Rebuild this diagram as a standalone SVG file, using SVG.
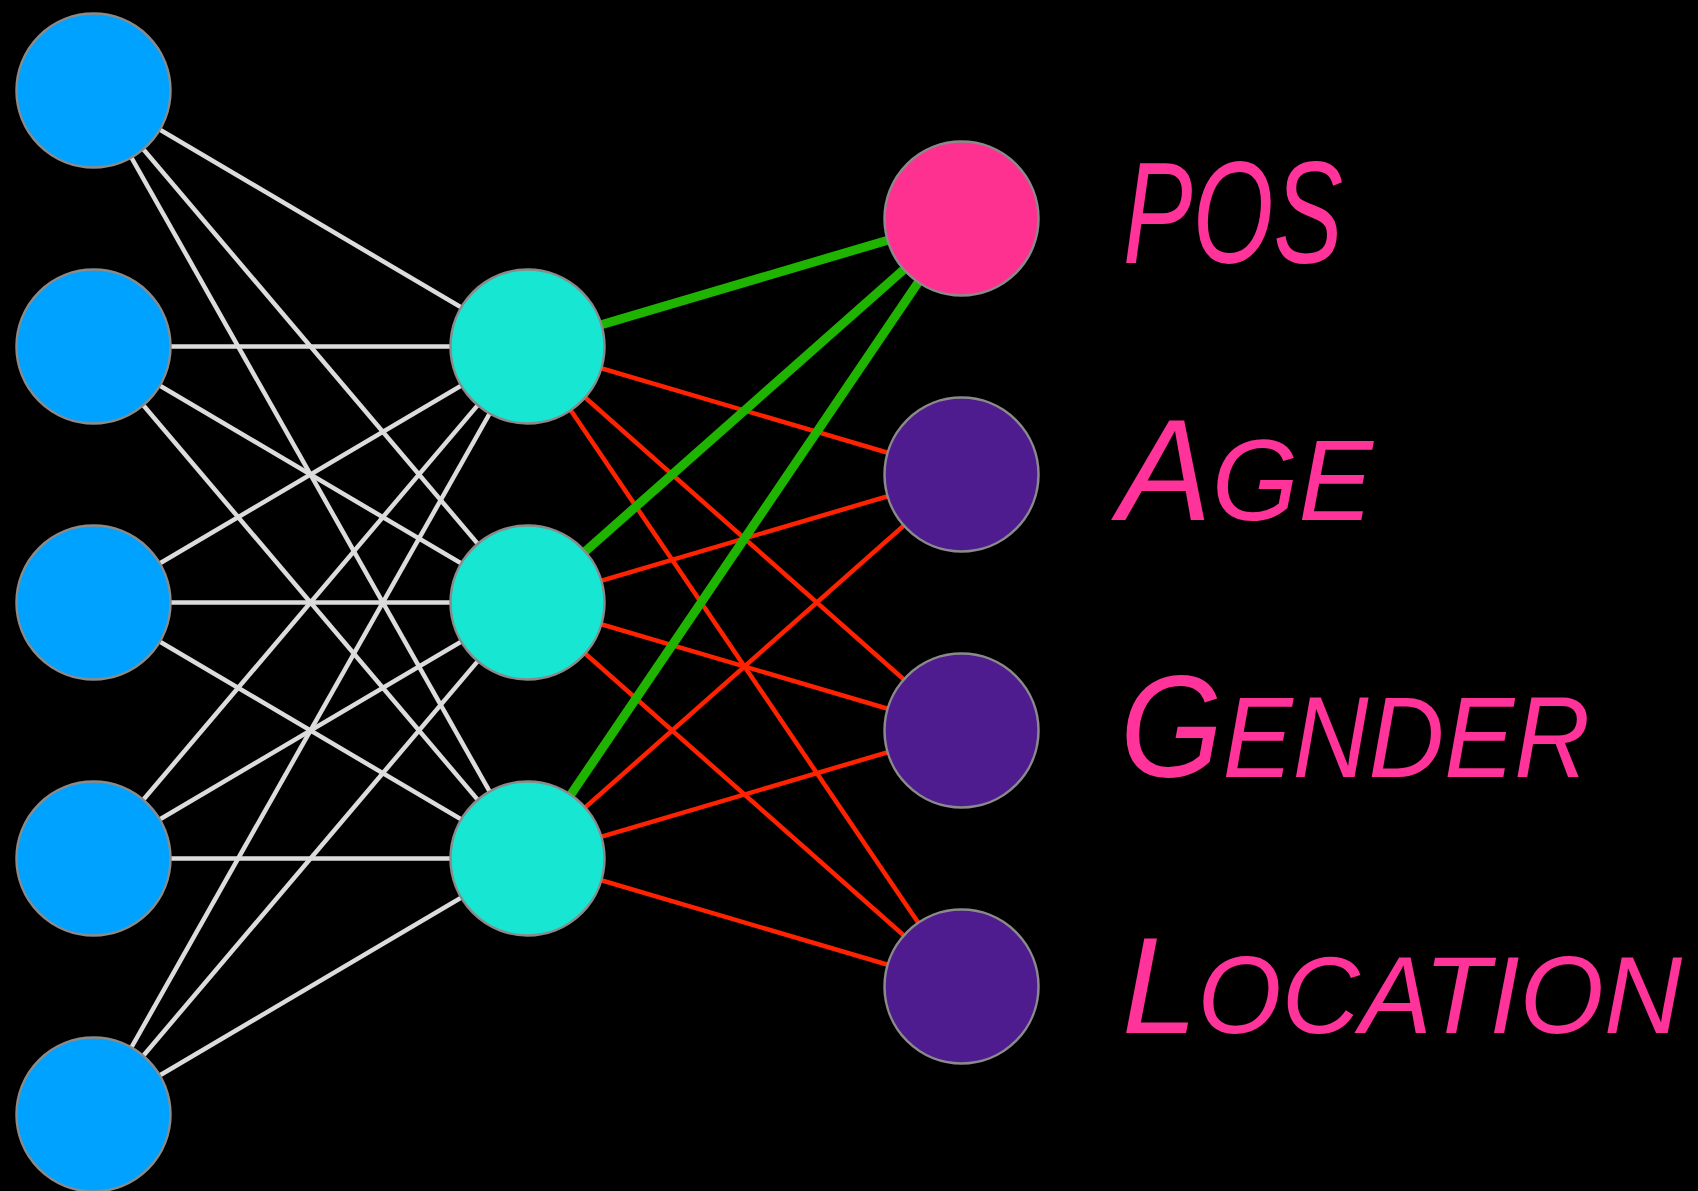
<svg xmlns="http://www.w3.org/2000/svg" width="1698" height="1191" viewBox="0 0 1698 1191">
<style>
.node{stroke:#8a8a8a;stroke-width:2.5}
.in{fill:#00a2ff}
.hid{fill:#16e6d2}
.pos{fill:#ff3190}
.out{fill:#4f1c8f}
.w{stroke:#dcdcdc;stroke-width:4.5}
.r{stroke:#ff2200;stroke-width:4.5}
.g{stroke:#1fb400;stroke-width:9}
.lbl{fill:#ff3399;font-family:"Liberation Sans",Arial,sans-serif;font-style:italic;font-variant:small-caps;font-size:145px}
.sc{font-size:164px}
.loc{font-size:137px}
.loc .sc{font-size:155px}
</style>
<rect width="1698" height="1191" fill="#000"/>
<g id="connectors">
<line class="w" x1="93.5" y1="90.5" x2="527.5" y2="346.5"/>
<line class="w" x1="93.5" y1="90.5" x2="527.5" y2="602.5"/>
<line class="w" x1="93.5" y1="90.5" x2="527.5" y2="858.5"/>
<line class="w" x1="93.5" y1="346.5" x2="527.5" y2="346.5"/>
<line class="w" x1="93.5" y1="346.5" x2="527.5" y2="602.5"/>
<line class="w" x1="93.5" y1="346.5" x2="527.5" y2="858.5"/>
<line class="w" x1="93.5" y1="602.5" x2="527.5" y2="346.5"/>
<line class="w" x1="93.5" y1="602.5" x2="527.5" y2="602.5"/>
<line class="w" x1="93.5" y1="602.5" x2="527.5" y2="858.5"/>
<line class="w" x1="93.5" y1="858.5" x2="527.5" y2="346.5"/>
<line class="w" x1="93.5" y1="858.5" x2="527.5" y2="602.5"/>
<line class="w" x1="93.5" y1="858.5" x2="527.5" y2="858.5"/>
<line class="w" x1="93.5" y1="1114.5" x2="527.5" y2="346.5"/>
<line class="w" x1="93.5" y1="1114.5" x2="527.5" y2="602.5"/>
<line class="w" x1="93.5" y1="1114.5" x2="527.5" y2="858.5"/>
<line class="r" x1="527.5" y1="346.5" x2="961.5" y2="474.5"/>
<line class="r" x1="527.5" y1="346.5" x2="961.5" y2="730.5"/>
<line class="r" x1="527.5" y1="346.5" x2="961.5" y2="986.5"/>
<line class="r" x1="527.5" y1="602.5" x2="961.5" y2="474.5"/>
<line class="r" x1="527.5" y1="602.5" x2="961.5" y2="730.5"/>
<line class="r" x1="527.5" y1="602.5" x2="961.5" y2="986.5"/>
<line class="r" x1="527.5" y1="858.5" x2="961.5" y2="474.5"/>
<line class="r" x1="527.5" y1="858.5" x2="961.5" y2="730.5"/>
<line class="r" x1="527.5" y1="858.5" x2="961.5" y2="986.5"/>
<line class="g" x1="527.5" y1="346.5" x2="961.5" y2="218.5"/>
<line class="g" x1="527.5" y1="602.5" x2="961.5" y2="218.5"/>
<line class="g" x1="527.5" y1="858.5" x2="961.5" y2="218.5"/>
</g>
<g id="in1"><circle class="node in" cx="93.5" cy="90.5" r="77"/></g>
<g id="in2"><circle class="node in" cx="93.5" cy="346.5" r="77"/></g>
<g id="in3"><circle class="node in" cx="93.5" cy="602.5" r="77"/></g>
<g id="in4"><circle class="node in" cx="93.5" cy="858.5" r="77"/></g>
<g id="in5"><circle class="node in" cx="93.5" cy="1114.5" r="77"/></g>
<g id="h1"><circle class="node hid" cx="527.5" cy="346.5" r="77"/></g>
<g id="h2"><circle class="node hid" cx="527.5" cy="602.5" r="77"/></g>
<g id="h3"><circle class="node hid" cx="527.5" cy="858.5" r="77"/></g>
<g id="out-pos"><circle class="node pos" cx="961.5" cy="218.5" r="77"/><text class="lbl" x="1123" y="263" textLength="220" lengthAdjust="spacingAndGlyphs">POS</text></g>
<g id="out-age"><circle class="node out" cx="961.5" cy="474.5" r="77"/><text class="lbl" x="1118" y="520" textLength="255" lengthAdjust="spacingAndGlyphs">A<tspan class="sc">ge</tspan></text></g>
<g id="out-gender"><circle class="node out" cx="961.5" cy="730.5" r="77"/><text class="lbl" x="1120" y="777" textLength="470" lengthAdjust="spacingAndGlyphs">G<tspan class="sc">ender</tspan></text></g>
<g id="out-location"><circle class="node out" cx="961.5" cy="986.5" r="77"/><text class="lbl loc" x="1122" y="1033" textLength="560" lengthAdjust="spacingAndGlyphs">L<tspan class="sc">ocation</tspan></text></g>
</svg>
